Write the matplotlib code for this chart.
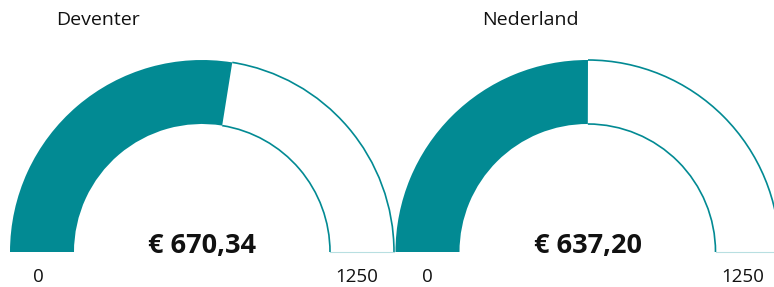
import matplotlib.pyplot as plt
from matplotlib.patches import Wedge, Arc

# Gegevens
regios = ["Deventer", "Nederland"]
labels = ["€ 670,34", "€ 637,20"]
standen = [688, 626]
minimum = 0
maximum = 1250

teal = "#028a93"
plt.rcParams['font.family'] = ['Open Sans', 'DejaVu Sans']

fig = plt.figure(figsize=(7.74, 2.87), dpi=100)
ax = fig.add_axes([0, 0, 1, 1])
ax.set_xlim(0, 774)
ax.set_ylim(0, 287)
ax.set_aspect('equal')
ax.axis('off')

centra = [202, 587.5]
titel_x = [98.5, 530.5]
nul_x = [38, 427]
cy = 35
r_out = 192
r_in = 128
breedte = r_out - r_in

for i, (cx, regio, stand, label) in enumerate(zip(centra, regios, standen, labels)):
    frac = (stand - minimum) / (maximum - minimum)
    hoek = 180 - 180 * frac
    # gevuld deel
    ax.add_patch(Wedge((cx, cy), r_out, hoek, 180, width=breedte,
                       facecolor=teal, edgecolor='none'))
    # rest: alleen omtrek
    ax.add_patch(Arc((cx, cy), 2 * r_out, 2 * r_out, theta1=0, theta2=hoek,
                     color=teal, lw=1.2))
    ax.add_patch(Arc((cx, cy), 2 * r_in, 2 * r_in, theta1=0, theta2=hoek,
                     color=teal, lw=1.2))
    ax.plot([cx + r_in, cx + r_out], [cy, cy], color='#b8dfe1', lw=0.8)

    ax.text(cx, cy - 1, label, ha='center', va='baseline', fontsize=19.5,
            fontweight='bold', color='#111111')
    ax.text(nul_x[i], 10, str(minimum), ha='center', va='center',
            fontsize=13.5, color='#111111')
    ax.text(cx + 155, 10, str(maximum), ha='center', va='center',
            fontsize=13.5, color='#111111')
    ax.text(titel_x[i], 267, regio, ha='center', va='center',
            fontsize=14, color='#111111')

fig.savefig("out.png", dpi=100)
